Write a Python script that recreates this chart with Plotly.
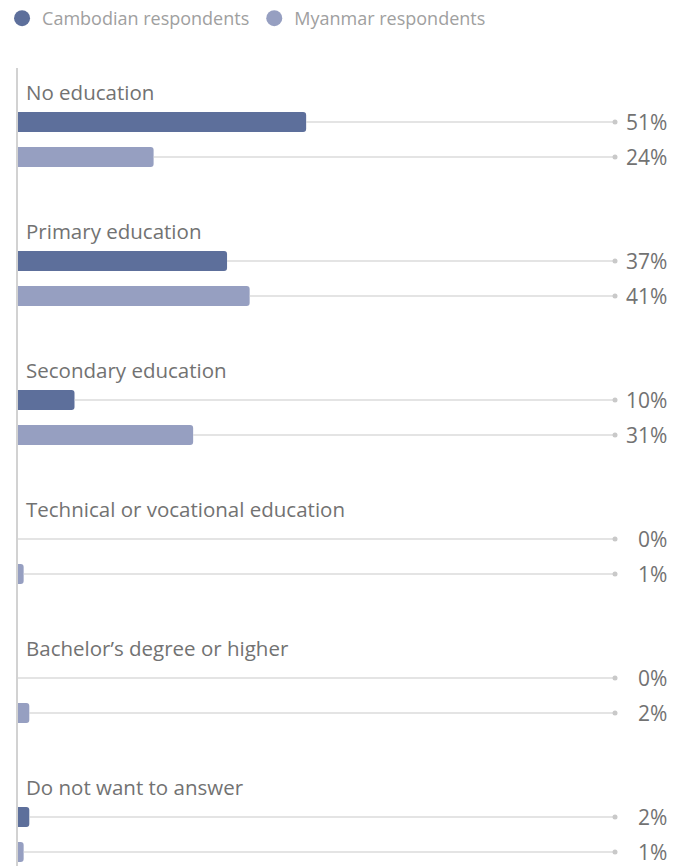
import plotly.graph_objects as go

# Education level of respondents, by country
categories = [
    "No education",
    "Primary education",
    "Secondary education",
    "Technical or vocational education",
    "Bachelor’s degree or higher",
    "Do not want to answer",
]
series_names = ["Cambodian respondents", "Myanmar respondents"]
cambodian = [51, 37, 10, 0, 0, 2]
myanmar = [24, 41, 31, 1, 2, 1]
series_values = [cambodian, myanmar]
series_colors = ["#5d6f9b", "#969fc1"]

W, H = 685, 866
FONT = "Open Sans"
TEXT_GREY = "#727272"
LINE_GREY = "#c9c9c9"

# layout geometry (pixels); the y axis is expressed in pixel units top-down
PX_PER_PCT = 5.65
X0_PX = 18
LINE_END_PX = 615
VALUE_RIGHT_PX = 669
LABEL_LEFT_PX = 24
FIRST_GROUP_Y = 92
GROUP_STEP = 139
BAR_OFFSETS = [30, 65]
BAR_THICK = 20
AXIS_TOP_Y = 68

x_range = [-X0_PX / PX_PER_PCT, (W - X0_PX) / PX_PER_PCT]
line_end = (LINE_END_PX - X0_PX) / PX_PER_PCT

fig = go.Figure()

annotations = []
for s, (name, vals, color) in enumerate(zip(series_names, series_values, series_colors)):
    ys = [FIRST_GROUP_Y + GROUP_STEP * i + BAR_OFFSETS[s] for i in range(len(categories))]

    # connector lines from bar end to the value marker
    lx, ly = [], []
    for v, y in zip(vals, ys):
        lx += [v, line_end, None]
        ly += [y, y, None]
    fig.add_trace(go.Scatter(x=lx, y=ly, mode="lines",
                             line=dict(color=LINE_GREY, width=1.2),
                             hoverinfo="skip", showlegend=False))
    fig.add_trace(go.Scatter(x=[line_end] * len(ys), y=ys, mode="markers",
                             marker=dict(color=LINE_GREY, size=5),
                             hoverinfo="skip", showlegend=False))

    fig.add_trace(go.Bar(x=vals, y=ys, orientation="h", width=BAR_THICK,
                         marker=dict(color=color, line=dict(width=0)),
                         name=name, showlegend=False))

    # legend entry drawn with a round marker
    fig.add_trace(go.Scatter(x=[None], y=[None], mode="markers", name=name,
                             marker=dict(color=color, size=16, symbol="circle")))

    for v, y in zip(vals, ys):
        annotations.append(dict(
            x=VALUE_RIGHT_PX / W, xref="paper", y=y, yref="y",
            text=f"{v}%", showarrow=False, xanchor="right", yanchor="middle",
            font=dict(family=FONT, size=21, color=TEXT_GREY)))

for i, cat in enumerate(categories):
    annotations.append(dict(
        x=(LABEL_LEFT_PX - X0_PX) / PX_PER_PCT, xref="x", y=FIRST_GROUP_Y + GROUP_STEP * i, yref="y",
        text=cat, showarrow=False, xanchor="left", yanchor="middle",
        font=dict(family=FONT, size=20.5, color=TEXT_GREY)))

fig.update_layout(
    width=W, height=H,
    margin=dict(l=0, r=0, t=0, b=0),
    paper_bgcolor="white", plot_bgcolor="white",
    barcornerradius=3,
    font=dict(family=FONT),
    xaxis=dict(range=x_range, visible=False, fixedrange=True),
    yaxis=dict(range=[H, 0], visible=False, fixedrange=True),
    annotations=annotations,
    shapes=[dict(type="line", xref="x", yref="y",
                 x0=-1 / PX_PER_PCT, x1=-1 / PX_PER_PCT, y0=AXIS_TOP_Y, y1=H,
                 line=dict(color="#d2d2d2", width=2))],
    legend=dict(orientation="h", x=0.003, y=1.0, xanchor="left", yanchor="top",
                font=dict(family=FONT, size=18, color="#a0a0a0"),
                bgcolor="rgba(0,0,0,0)", itemsizing="trace"),
    showlegend=True,
)

fig.write_html("out.html")
